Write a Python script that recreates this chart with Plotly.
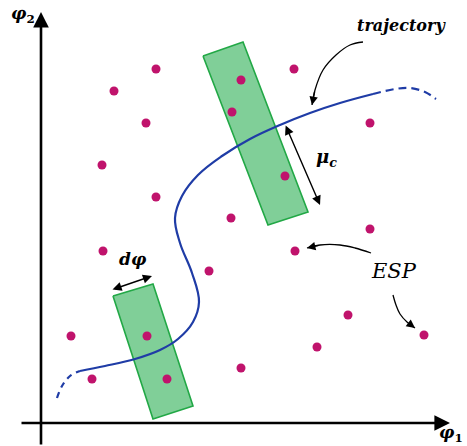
import plotly.graph_objects as go

# Canvas units: one unit per pixel, y grows downward
W, H = 467, 446

# Energy stationary points (ESP)
esp_x = [114, 156, 146, 102, 156, 241, 294, 232, 370, 285, 231, 370, 103, 295,
         209, 348, 424, 71, 147, 317, 92, 167, 241]
esp_y = [91, 69, 123, 165, 197, 80, 69, 112, 123, 176, 218, 229, 251, 251,
         271, 315, 335, 336, 336, 347, 379, 379, 368]

# Trajectory through the (phi1, phi2) plane
traj_head_x = [57, 62, 70, 80]
traj_head_y = [398, 386, 376, 371]
traj_x = [80, 105, 135, 160, 178, 193, 199, 192, 180, 175, 182, 198, 222, 250,
          280, 310, 340, 373]
traj_y = [371, 366, 359, 350, 339, 322, 302, 273, 243, 218, 196, 175, 156, 139,
          125, 113, 103, 94]
traj_tail_x = [373, 395, 410, 425, 436]
traj_tail_y = [94, 89, 88, 92, 99]

# Sampling windows (tilted rectangles), closed polygons
win1_x = [113, 153, 193, 153, 113]
win1_y = [296, 284, 406, 419, 296]
win2_x = [203, 243, 308, 268, 203]
win2_y = [56, 42, 212, 225, 56]

# Curved pointer arrows: label side first, tip last
traj_ptr_x = [363, 350, 336, 323, 315, 312]
traj_ptr_y = [42, 45, 55, 70, 90, 105]
esp_ptr1_x = [371, 355, 340, 320, 307]
esp_ptr1_y = [253, 248, 245, 245, 248]
esp_ptr2_x = [393, 396, 400, 407, 415]
esp_ptr2_y = [295, 305, 314, 322, 328]

DOT = "#c0136c"
LINE = "#1f3ca6"
FILL = "#80cf98"
EDGE = "#22a846"

fig = go.Figure()

for wx, wy in [(win1_x, win1_y), (win2_x, win2_y)]:
    fig.add_trace(go.Scatter(x=wx, y=wy, mode="lines", fill="toself",
                             fillcolor=FILL, line=dict(color=EDGE, width=1.6),
                             hoverinfo="skip"))

fig.add_trace(go.Scatter(x=traj_head_x, y=traj_head_y, mode="lines",
                         line=dict(color=LINE, width=2.2, dash="6px,5px", shape="spline"),
                         hoverinfo="skip"))
fig.add_trace(go.Scatter(x=traj_x, y=traj_y, mode="lines",
                         line=dict(color=LINE, width=2.2, shape="spline", smoothing=1.1),
                         hoverinfo="skip"))
fig.add_trace(go.Scatter(x=traj_tail_x, y=traj_tail_y, mode="lines",
                         line=dict(color=LINE, width=2.2, dash="8px,5px", shape="spline"),
                         hoverinfo="skip"))

fig.add_trace(go.Scatter(x=esp_x, y=esp_y, mode="markers",
                         marker=dict(color=DOT, size=9, line=dict(width=0)),
                         hoverinfo="skip"))

annotations = []

# Curved pointers: body as spline, head as a short arrow on the last segment
for px, py in [(traj_ptr_x, traj_ptr_y), (esp_ptr1_x, esp_ptr1_y), (esp_ptr2_x, esp_ptr2_y)]:
    fig.add_trace(go.Scatter(x=px, y=py, mode="lines",
                             line=dict(color="black", width=1.3, shape="spline"),
                             hoverinfo="skip"))
    annotations.append(dict(x=px[-1], y=py[-1], ax=px[-2], ay=py[-2],
                            xref="x", yref="y", axref="x", ayref="y",
                            showarrow=True, arrowhead=2, arrowsize=1.3,
                            arrowwidth=1.3, arrowcolor="black", text="", standoff=0))

# Double-headed width arrows
for (x0, y0, x1, y1) in [(111, 290, 152, 276), (285, 124, 320, 205)]:
    annotations.append(dict(x=x1, y=y1, ax=x0, ay=y0,
                            xref="x", yref="y", axref="x", ayref="y",
                            showarrow=True, arrowhead=2, startarrowhead=2,
                            arrowside="end+start", arrowsize=1.3, startarrowsize=1.3,
                            arrowwidth=1.4, arrowcolor="black", text="",
                            standoff=0, startstandoff=0))

# Coordinate axes
annotations.append(dict(x=41, y=12, ax=41, ay=446, xref="x", yref="y",
                        axref="x", ayref="y", showarrow=True, arrowhead=2,
                        arrowsize=1.2, arrowwidth=2.6, arrowcolor="black",
                        text="", standoff=0))
annotations.append(dict(x=450, y=423, ax=20, ay=423, xref="x", yref="y",
                        axref="x", ayref="y", showarrow=True, arrowhead=2,
                        arrowsize=1.2, arrowwidth=2.6, arrowcolor="black",
                        text="", standoff=0))

SERIF = "DejaVu Serif"
labels = [
    ("<b><i>trajectory</i></b>", 401, 25, 16),
    ("<i>ESP</i>", 394, 271, 21),
    ("<b><i>μ<sub>c</sub></i></b>", 326, 158, 18),
    ("<b><i>dφ</i></b>", 133, 259, 17),
    ("<b><i>φ</i><sub>2</sub></b>", 23, 14, 17),
    ("<b><i>φ</i><sub>1</sub></b>", 451, 433, 17),
]
for txt, x, y, s in labels:
    annotations.append(dict(x=x, y=y, xref="x", yref="y", text=txt,
                            showarrow=False, font=dict(family=SERIF, size=s, color="black"),
                            xanchor="center", yanchor="middle"))

fig.update_layout(
    width=W, height=H,
    margin=dict(l=0, r=0, t=0, b=0),
    paper_bgcolor="white", plot_bgcolor="white",
    showlegend=False,
    xaxis=dict(range=[0, W], visible=False, fixedrange=True),
    yaxis=dict(range=[H, 0], visible=False, fixedrange=True),
    annotations=annotations,
)

fig.write_html("out.html")
